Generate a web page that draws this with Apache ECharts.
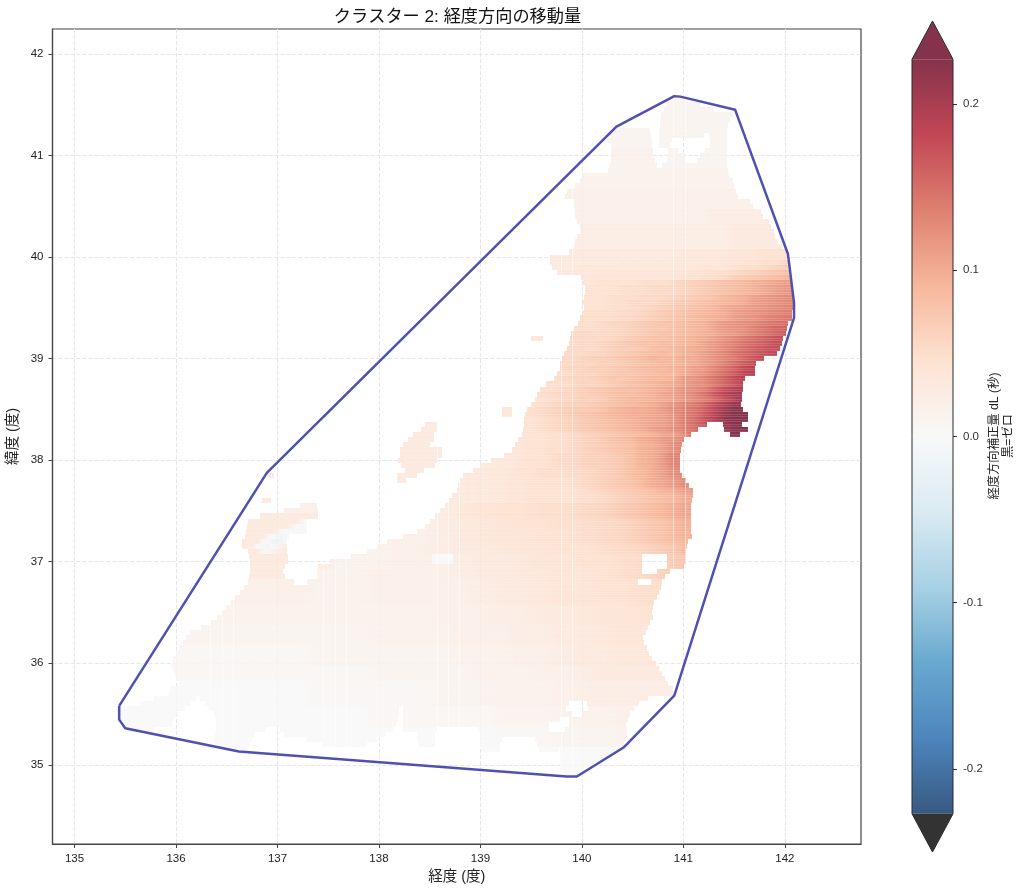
<!DOCTYPE html>
<html>
<head>
<meta charset="utf-8">
<style>html,body{margin:0;padding:0;background:#fff}#c{width:1024px;height:894px}</style>
<script src="https://cdn.jsdelivr.net/npm/echarts@6/dist/echarts.min.js"></script>
</head>
<body>
<div id="c"></div>
<script>
const titleText = 'クラスター 2: 経度方向の移動量';
const xName = '経度 (度)';
const yName = '緯度 (度)';
const cbName = '経度方向補正量 dL (秒)\n黒=ゼロ';
const xTicks = [135,136,137,138,139,140,141,142];
const yTicks = [35,36,37,38,39,40,41,42];
const cbTicks = [-0.2,-0.1,0,0.1,0.2];
const cbLimit = 0.227;

// hull outline [lon, lat]
const hull = [[135.44,35.58],[135.44,35.445],[135.5,35.36],[136.62,35.13],[139.85,34.885],[139.95,34.885],[140.41,35.17],[140.91,35.68],[142.09,39.4],[142.09,39.55],[142.03,40.03],[141.51,41.45],[140.97,41.58],[140.91,41.585],[140.34,41.285],[136.895,37.875],[135.44,35.58]];

// longitudes of the missing data columns
const gapLons = [136.335,136.45,136.565,137.45,137.57,137.68,138.57,138.68,138.79,139.79,139.905,140.9,141.02];

// land rows: lat, then runs [lonFrom, lonTo, optional fixed level]
const landRows = [
[41.55,[140.885,141.03]],[41.5,[140.84,141.16]],[41.45,[140.81,141.3]],[41.4,[140.78,141.49]],[41.35,[140.77,141.46]],[41.3,[140.77,141.44]],
[41.25,[140.33,140.67],[140.76,141.43]],[41.2,[140.26,140.68],[140.76,141.2],[141.25,141.43]],[41.15,[140.245,140.69],[140.76,140.885],[141.26,141.43]],
[41.1,[140.29,140.69],[140.76,140.87],[141.26,141.43]],[41.05,[140.29,140.7],[140.85,140.95],[141.21,141.43]],[41,[140.29,140.7],[140.85,141.02],[141.16,141.43]],
[40.95,[140.29,140.72],[140.84,141.03],[141.13,141.43]],[40.9,[140.28,140.74],[140.79,141.43]],[40.85,[140.26,141.44]],[40.8,[140,141.45]],[40.75,[139.98,141.49]],
[40.7,[139.93,141.5]],[40.65,[139.85,141.52]],[40.6,[139.83,141.54]],[40.55,[139.92,141.66]],[40.5,[139.92,141.69]],[40.45,[139.93,141.76]],[40.4,[139.93,141.78]],
[40.35,[139.95,141.84]],[40.3,[139.98,141.86]],[40.25,[139.99,141.89]],[40.2,[139.95,141.9]],[40.15,[139.93,141.92]],[40.1,[139.92,141.97]],[40.05,[139.87,142.01]],
[40,[139.69,142.02]],[39.95,[139.69,142.03]],[39.9,[139.71,142.03]],[39.85,[139.75,142.04]],[39.8,[139.99,142.05]],[39.75,[140.01,142.06]],[39.7,[140.03,142.06]],
[39.65,[140.03,142.07]],[39.6,[140.02,142.08]],[39.55,[140,142.08]],[39.5,[140.02,142.08]],[39.45,[140.01,142.07]],[39.4,[139.98,142.07]],[39.35,[139.96,142.03]],
[39.3,[139.92,142.02]],[39.25,[139.89,142.01]],[39.2,[139.5,139.62,'b'],[139.88,141.98]],[39.15,[139.87,141.97]],[39.1,[139.85,141.95]],[39.05,[139.82,141.92]],
[39,[139.8,141.79]],[38.95,[139.78,141.72]],[38.9,[139.78,141.71]],[38.85,[139.75,141.71]],[38.8,[139.72,141.61]],[38.75,[139.65,141.59]],[38.7,[139.59,141.59]],
[38.65,[139.56,141.58]],[38.6,[139.54,141.58]],[38.55,[139.5,141.57]],[38.5,[139.21,139.31,'b'],[139.46,141.59]],[38.45,[139.21,139.31,'b'],[139.44,141.64]],[38.4,[139.43,141.64]],
[38.35,[138.45,138.57,'a'],[139.43,141.23],[141.39,141.58]],[38.3,[138.41,138.57,'a'],[139.42,141.14],[141.4,141.64]],[38.25,[138.34,138.54,'a'],[139.41,141.07],[141.46,141.56]],
[38.2,[138.29,138.54,'a'],[139.37,141.01]],[38.15,[138.24,138.5,'a'],[139.34,140.99]],[38.1,[138.21,138.62,'a'],[139.31,140.98]],[38.05,[138.21,138.62,'a'],[139.23,140.97]],
[38,[138.19,138.57,'a'],[139.1,140.97]],[37.95,[138.22,138.55,'a'],[139,140.97]],[37.9,[138.26,138.44,'a'],[138.93,140.97]],[37.85,[136.9,136.97,'a'],[138.18,138.37,'a'],[138.83,140.99]],
[37.8,[138.18,138.27,'a'],[138.8,141.03]],[37.75,[138.78,141.06]],[37.7,[138.77,141.09]],[37.65,[138.72,141.09]],[37.6,[136.85,136.94,'a'],[138.69,141.08]],
[37.55,[137.22,137.39],[138.65,141.07]],[37.5,[137.06,137.4],[138.6,141.07]],[37.45,[136.83,137.4],[138.55,141.07]],[37.4,[136.71,137.29],[138.5,141.07]],
[37.35,[136.7,137.29],[138.45,141.07]],[37.3,[136.69,137.29],[138.37,141.07]],[37.25,[136.68,137.11],[138.24,141.08]],[37.2,[136.65,137.09],[138.08,141.05]],
[37.15,[136.65,137.09],[137.98,141.04]],[37.1,[136.71,137.09],[137.88,141.03]],[37.05,[136.72,137.1],[137.72,138.52],[138.52,138.73,'4'],[138.73,140.59],[140.84,141.03]],
[37,[136.73,137.1],[137.52,138.52],[138.52,138.73,'4'],[138.73,140.59],[140.84,141.03]],[36.95,[136.73,137.07],[137.4,140.59],[140.84,141.01]],[36.9,[136.73,137.05],[137.39,140.59],[140.74,140.87]],
[36.85,[136.72,137.07],[137.39,140.82]],[36.8,[136.71,137.16],[137.29,140.555],[140.68,140.79]],[36.75,[136.67,140.78]],[36.7,[136.63,140.76]],[36.65,[136.58,140.74]],
[36.6,[136.54,140.71]],[36.55,[136.49,140.7]],[36.5,[136.45,140.69]],[36.45,[136.4,140.7]],[36.4,[136.34,140.67]],[36.35,[136.25,140.65]],[36.3,[136.14,140.63]],
[36.25,[136.1,140.6]],[36.2,[136.07,140.61]],[36.15,[136.03,140.64]],[36.1,[136,140.66]],[36.05,[135.97,140.69]],[36,[135.96,140.73]],[35.95,[135.97,140.76]],
[35.9,[135.98,140.79]],[35.85,[136,140.82]],[35.8,[136.04,140.85]],[35.75,[135.94,140.9]],[35.7,[135.93,140.92]],[35.65,[135.78,136.2],[136.24,140.65]],
[35.6,[135.65,136.15],[136.29,139.87],[140.05,140.56]],[35.55,[135.44,136.09],[136.33,138.2],[138.24,139.84],[140.06,140.51]],[35.5,[135.44,136.02],[136.37,138.2],[138.24,139.9],[140,140.47]],
[35.45,[135.44,135.97],[136.39,138.19],[138.24,139.78],[139.87,140.45]],[35.4,[135.48,135.96],[136.39,138.17],[138.24,139.68],[139.87,140.43]],
[35.35,[135.53,135.78],[136.39,136.89],[137.02,138.14],[138.24,138.57],[138.98,139.68],[139.83,140.44]],[35.3,[136.38,136.77],[137.06,138.07],[138.37,138.55],[139,140.44]],
[35.25,[136.37,136.75],[137.29,137.98],[138.38,138.55],[139,139.21],[139.54,140.43]],[35.2,[136.38,136.73],[137.45,137.88],[138.39,138.55],[139,139.19],[139.56,139.79],[139.8,140.41]],
[35.15,[136.56,136.71],[139.01,139.19],[139.58,139.77],[139.78,140.4]],[35.1,[139.78,140.3]],[35.05,[139.78,140.21]],[35,[139.78,140.11]],[34.95,[139.78,140.03]],[34.9,[139.82,139.96]]
];

// read dL levels: lat, first lon, lon step, one level character per column
const levels = '0123456789abcdefghijklmnopqrstuvwxyzABCDEFGHIJKLMNO';
const fieldEast = [
[41.6,139,0.1,'66666666666666666666666666666666'],
[41.2,139,0.1,'66666666666666666666666666666666'],
[41.0,139,0.1,'77777777777777777766666666666666'],
[40.8,139,0.1,'77777777777777777777777777777777'],
[40.6,139,0.1,'88888888888888888888888888888888'],
[40.4,139,0.1,'88888888888888888888888999999999'],
[40.2,139,0.1,'9999999999999999999999999aaaaaaa'],
[40.0,139,0.1,'aaaaaaaaaaaaaaaaaaaabbbbbcccddde'],
[39.95,139,0.1,'aaaaaaaaaaaaaabbbbbbbbbbccddeeff'],
[39.9,139,0.1,'aaaaaaaaaabbbbbbbbbbbbcccdeefghi'],
[39.85,139,0.1,'bbbbbbbbbbbbcccccccccddeefghijkl'],
[39.8,139,0.1,'bbbbbbbbbbbcccccccccddeefhijklmn'],
[39.75,139,0.1,'bbbbbbbcccccddddeeefghijklmnopqq'],
[39.7,139,0.1,'cccccccccccdddeeefffghijklmnpqrr'],
[39.65,139,0.1,'ccccccddddddddeeefffghijklmnoqrs'],
[39.6,139,0.1,'dddddddddddddeeefffghijkmnoqrstu'],
[39.55,139,0.1,'dddddddddddddeefffghijklmnoqrstu'],
[39.5,139,0.1,'dddddddddddddeeffghijklmopqrstuv'],
[39.45,139,0.1,'dddddddeeeeeeeffghijklmnoqrstuvw'],
[39.4,139,0.1,'eeeeeeeeeeeeeeffghijklmnoqrsuvwx'],
[39.35,139,0.1,'eeeeeeeeeeeefgghijkklmnprstuwxyy'],
[39.3,139,0.1,'eeeeeeeeeeeeffghijjklmnprstvxzAA'],
[39.25,139,0.1,'eeeeeeefffffffghijkklmnoqrtvxzBB'],
[39.2,139,0.1,'fffffffffffffghijkklmnoqsuwyACDD'],
[39.15,139,0.1,'ffffffffffffghijkkllmnprtvxzBDEE'],
[39.1,139,0.1,'ffffffffffffghiijllmnoprtwyACDEE'],
[39.05,139,0.1,'fffffffffffgghijklmlnoqsuxzBDEEE'],
[39.0,139,0.1,'ffffffffffghhijklnmmooqsuwzCEEEE'],
[38.95,139,0.1,'ffffffffffgghhijklmmnoqsvyBDFFFF'],
[38.9,139,0.1,'fffffffffgghhijklmmnoqruxAEGGGGG'],
[38.85,139,0.1,'eeeeeeeeefgghijjklmmoqsvyBFHHHHH'],
[38.8,139,0.1,'eeeeeeeefgghijjklmmnrsuxAEHIIIII'],
[38.75,139,0.1,'ddddddeeefgghijklmnoqstwzCGIIIII'],
[38.7,139,0.1,'ddddddeefghijkllmnoqstvzDGIJJJJJ'],
[38.65,139,0.1,'dddddeefgghijkllmnpqsuxBFIKLLLLL'],
[38.6,139,0.1,'dddddddefghhiklmmnoprtvyCGKMMMMM'],
[38.55,139,0.1,'ccccddefghhijklmnoqsuwzDHLMNNNNN'],
[38.5,139,0.1,'ccccdefghiijkmnooprtvxAEJNOOOOOO'],
[38.45,139,0.1,'ccccdefghijklmnoopqsvxBFKNOOOOOO'],
[38.4,139,0.1,'ccccddefghijklmnopqsvyCGLOOOOOOO'],
[38.35,139,0.1,'ccccddefghijklmnopqsvyCGKOOOOOOO'],
[38.3,139,0.1,'cccccdefghijklmnoqrtvyCGKOOOOOOO'],
[38.25,139,0.1,'bbcccddeefghijklmnpqtyCGKOOOOOOO'],
[38.2,139,0.1,'bbbccddeefghiklmoprsuuuuuuuuuuuu'],
[38.1,139,0.1,'abbccddeefghijklnoqtuuuuuuuuuuuu'],
[38.0,139,0.1,'9abbcddeffghhijlnorvvvvvvvvvvvvv'],
[37.9,139,0.1,'abbcddeeeffghijlmoqtuuuuuuuuuuuu'],
[37.8,139,0.1,'abbccddddefghijkmoprtttttttttttt'],
[37.7,139,0.1,'abbccdddddefghijklnoqrrrrrrrrrrr'],
[37.6,139,0.1,'abbccdddddeefghijklmoppppppppppp']
];
const fieldWest = [
[37.5,135.4,0.2,'88888888888888889bcddeefgikmpp'],
[37.4,135.4,0.2,'aaaaaaaaaaa888889abcddeefgikno'],
[37.3,135.4,0.2,'aaaaaaaaaaa888889abccddefgiknn'],
[37.2,135.4,0.2,'aaaaaaaaaaa778889abccddefgikmm'],
[37.1,135.4,0.2,'aaaaaaaaaaa777889aabccddefgill'],
[37.0,135.4,0.2,'aaaaaaaaaaa7778889aabccddefhjk'],
[36.9,135.4,0.2,'aaaaaaaaaa77788889aabbccdefhii'],
[36.7,135.4,0.2,'8888888888777888889aabccddeeee'],
[36.5,135.4,0.2,'777777777777777788899aabccdddd'],
[36.3,135.4,0.2,'6666666666666777788899aabccccc'],
[36.1,135.4,0.2,'55555555556666666777889aabbbbb'],
[35.9,135.4,0.2,'555555555555566666777889aaaaaa'],
[35.7,135.4,0.2,'444444444455555566677788999999'],
[35.5,135.4,0.2,'444444444444455555566677788888'],
[35.3,135.4,0.2,'444444444444444444455566677777'],
[35.1,135.4,0.2,'444444444444444444444444444444'],
[35.0,135.4,0.2,'444444444444444444444444444444']
];
const fieldNoto = [
[37.45,136.65,0.05,'aaaaaaaaaaaaaaa'],
[37.4,136.65,0.05,'aaaaaaaaaaaa643'],
[37.35,136.65,0.05,'aaaaaaaaaa74345'],
[37.3,136.65,0.05,'aaaaaaa85333334'],
[37.25,136.65,0.05,'aaaaa7422346666'],
[37.2,136.65,0.05,'aaaa63112588888'],
[37.15,136.65,0.05,'aaa532369aaaaaa'],
[37.1,136.65,0.05,'aaaa6578aaaaaaa'],
[37.05,136.65,0.05,'aaaaaaaaaaaaaaa']
];

const rowH = 0.05;
const stops = ['#053061','#2166ac','#4393c3','#92c5de','#d1e5f0','#f7f7f7','#fddbc7','#f4a582','#d6604d','#b2182b','#67001f'];
const rgb = stops.map(h => [1,3,5].map(i => parseInt(h.substr(i,2),16)));
function colorOf(v){
  let f = (v + cbLimit) / (2*cbLimit) * 10;
  if (f >= 10) return '#67001f';
  if (f <= 0) return '#000';
  const i = Math.floor(f), t = f - i;
  const c = rgb[i].map((a,k) => Math.round(a + (rgb[i+1][k]-a)*t));
  return 'rgb(' + c.join(',') + ')';
}
const levelValue = ch => levels.indexOf(ch) * 0.005 - 0.02;
function nearest(rows, lat){
  let best = rows[0];
  for (const r of rows) if (Math.abs(r[0]-lat) < Math.abs(best[0]-lat)) best = r;
  return best;
}
function fieldFor(lat, from){
  if (from < 137.45 && lat > 37.02 && lat < 37.48) return nearest(fieldNoto, lat);
  return lat >= 37.6 ? nearest(fieldEast, lat) : nearest(fieldWest, lat);
}
// each cell spans two neighbouring read columns; [lon0, lon1, lat, leftLevel, rightLevel, leftColLon, rightColLon]
const cells = [], gaps = [], stripes = [];
landRows.forEach(row => {
  const lat = row[0];
  row.slice(1).forEach(run => {
    const from = run[0], to = run[1], fixed = run[2];
    stripes.push([from, to, lat]);
    gapLons.forEach(g => { if (g > from && g < to) gaps.push([g, lat]); });
    if (fixed) { cells.push([from, to, lat, levelValue(fixed), levelValue(fixed), from, to]); return; }
    const r = fieldFor(lat, from), last = r[3].length - 1;
    let x = from;
    while (x < to - 1e-6) {
      const raw = Math.floor((x - r[1]) / r[2] + 1e-6);
      const i = Math.max(0, Math.min(last - 1, raw));
      const c0 = r[1] + raw * r[2], c1 = c0 + r[2];
      const nx = Math.min(to, c1);
      cells.push([x, nx, lat, levelValue(r[3][i]), levelValue(r[3][i+1]), c0, c1]);
      x = nx;
    }
  });
});

const chart = echarts.init(document.getElementById('c'), null, {renderer:'canvas'});
const fontLatin = '"Liberation Sans","Noto Sans CJK JP",sans-serif';
const axisCommon = {
  type:'value', axisLine:{show:true,onZero:false,lineStyle:{color:'#444',width:1.2}},
  axisTick:{show:true,length:4,lineStyle:{color:'#444',width:1}},
  splitLine:{show:true,lineStyle:{color:'#e6e6e6',type:[4,2],width:1}},
  nameTextStyle:{color:'#222',fontSize:14.5,fontFamily:fontLatin},
  nameLocation:'middle'
};
chart.setOption({
  animation:false,
  backgroundColor:'#fff',
  textStyle:{fontFamily:fontLatin},
  title:{text:titleText,left:452.5,top:4,textAlign:'center',textStyle:{fontSize:17.2,fontWeight:'normal',color:'#111',fontFamily:fontLatin}},
  grid:[
    {left:52.5,top:29,width:808.5,height:815,show:true,outerBoundsMode:'none',borderColor:'#444',borderWidth:1.2,backgroundColor:'transparent'},
    {left:912,top:21,width:41,height:831,show:false,outerBoundsMode:'none'}
  ],
  xAxis:[
    Object.assign({},axisCommon,{gridIndex:0,min:134.783,max:142.75,name:xName,nameGap:26,
      axisTick:Object.assign({},axisCommon.axisTick,{customValues:xTicks}),
      axisLabel:{customValues:xTicks,color:'#222',fontSize:11.5,margin:9,formatter:v=>String(Math.round(v))}}),
    {type:'value',gridIndex:1,min:0,max:1,show:false}
  ],
  yAxis:[
    Object.assign({},axisCommon,{gridIndex:0,min:34.22,max:42.246,name:yName,nameGap:25,
      axisTick:Object.assign({},axisCommon.axisTick,{customValues:yTicks}),
      axisLabel:{customValues:yTicks,color:'#222',fontSize:11.5,margin:9,formatter:v=>String(Math.round(v))}}),
    {type:'value',gridIndex:1,position:'right',min:-0.25,max:0.25,
      axisLine:{show:false,onZero:false},splitLine:{show:false},
      axisTick:{show:true,inside:false,length:4,customValues:cbTicks,lineStyle:{color:'#333',width:1}},
      axisLabel:{customValues:cbTicks,color:'#333',fontSize:11.5,margin:10,formatter:v=>v.toFixed(1)}}
  ],
  graphic:[{type:'text',x:1002,y:436,rotation:Math.PI/2,
    style:{text:cbName,align:'center',verticalAlign:'middle',fill:'#222',font:'12.3px "Liberation Sans","Noto Sans CJK JP",sans-serif',lineHeight:14}}],
  series:[
    {type:'custom',xAxisIndex:0,yAxisIndex:0,coordinateSystem:'cartesian2d',clip:false,progressive:0,silent:true,z:2,
      encode:{x:[0,1],y:2},data:cells,
      renderItem(p,api){
        const lat=api.value(2);
        const a=api.coord([api.value(0),lat+rowH/2]), b=api.coord([api.value(1),lat-rowH/2]);
        const x=Math.round(a[0]),y=Math.round(a[1]);
        const g0=api.coord([api.value(5),lat])[0], g1=api.coord([api.value(6),lat])[0];
        const fill=new echarts.graphic.LinearGradient(g0,0,g1,0,[{offset:0,color:colorOf(api.value(3))},{offset:1,color:colorOf(api.value(4))}],true);
        return {type:'rect',shape:{x,y,width:Math.round(b[0])-x,height:Math.round(b[1])-y},style:{fill,opacity:0.8}};
      }},
    {type:'custom',xAxisIndex:0,yAxisIndex:0,coordinateSystem:'cartesian2d',clip:false,progressive:0,silent:true,z:3,
      encode:{x:[0,1],y:2},data:stripes,
      renderItem(p,api){
        const lat=api.value(2);
        const a=api.coord([api.value(0),lat+rowH/2]), b=api.coord([api.value(1),lat-rowH/2]);
        const x=Math.round(a[0]),y=Math.round(a[1]),w=Math.round(b[0])-x,h=Math.round(b[1])-y;
        return {type:'group',children:[
          {type:'rect',shape:{x,y:y+Math.floor(h/2),width:w,height:1},style:{fill:'#fff',opacity:0.14}},
          {type:'rect',shape:{x,y:y+h-1,width:w,height:1},style:{fill:'#fff',opacity:0.14}}
        ]};
      }},
    {type:'custom',xAxisIndex:0,yAxisIndex:0,coordinateSystem:'cartesian2d',clip:false,progressive:0,silent:true,z:3,
      encode:{x:0,y:1},data:gaps,
      renderItem(p,api){
        const lat=api.value(1);
        const a=api.coord([api.value(0),lat+rowH/2]), b=api.coord([api.value(0),lat-rowH/2]);
        const y=Math.round(a[1]);
        return {type:'rect',shape:{x:Math.round(a[0]),y,width:1,height:Math.round(b[1])-y},style:{fill:'#fff',opacity:0.5}};
      }},
    {type:'line',xAxisIndex:0,yAxisIndex:0,data:hull,showSymbol:false,symbol:'none',z:5,silent:true,
      lineStyle:{color:'#5050b2',width:2.5,join:'round'}},
    {type:'custom',xAxisIndex:1,yAxisIndex:1,coordinateSystem:'cartesian2d',silent:true,clip:false,z:2,
      encode:{x:0,y:1},data:[[0.5,0]],
      renderItem(p,api){
        const tl=api.coord([0,cbLimit]),br=api.coord([1,-cbLimit]),top=api.coord([0.5,0.25]),bot=api.coord([0.5,-0.25]);
        const grad=new echarts.graphic.LinearGradient(0,0,0,1,stops.slice().reverse().map((c,i)=>({offset:i/10,color:echarts.color.modifyAlpha(c,0.8)})));
        const outline=[[tl[0],tl[1]],[top[0],top[1]],[br[0],tl[1]],[br[0],br[1]],[bot[0],bot[1]],[tl[0],br[1]]];
        const kids=[
          {type:'rect',shape:{x:tl[0],y:tl[1],width:br[0]-tl[0],height:br[1]-tl[1]},style:{fill:grad}},
          {type:'polygon',shape:{points:[[tl[0],tl[1]],[top[0],top[1]],[br[0],tl[1]]]},style:{fill:'#85334c'}},
          {type:'polygon',shape:{points:[[tl[0],br[1]],[bot[0],bot[1]],[br[0],br[1]]]},style:{fill:'#333333'}},
          {type:'polygon',shape:{points:outline},style:{fill:'none',stroke:'#2a2a2a',lineWidth:1}}
        ];
        return {type:'group',children:kids};
      }}
  ]
});
</script>
</body>
</html>
